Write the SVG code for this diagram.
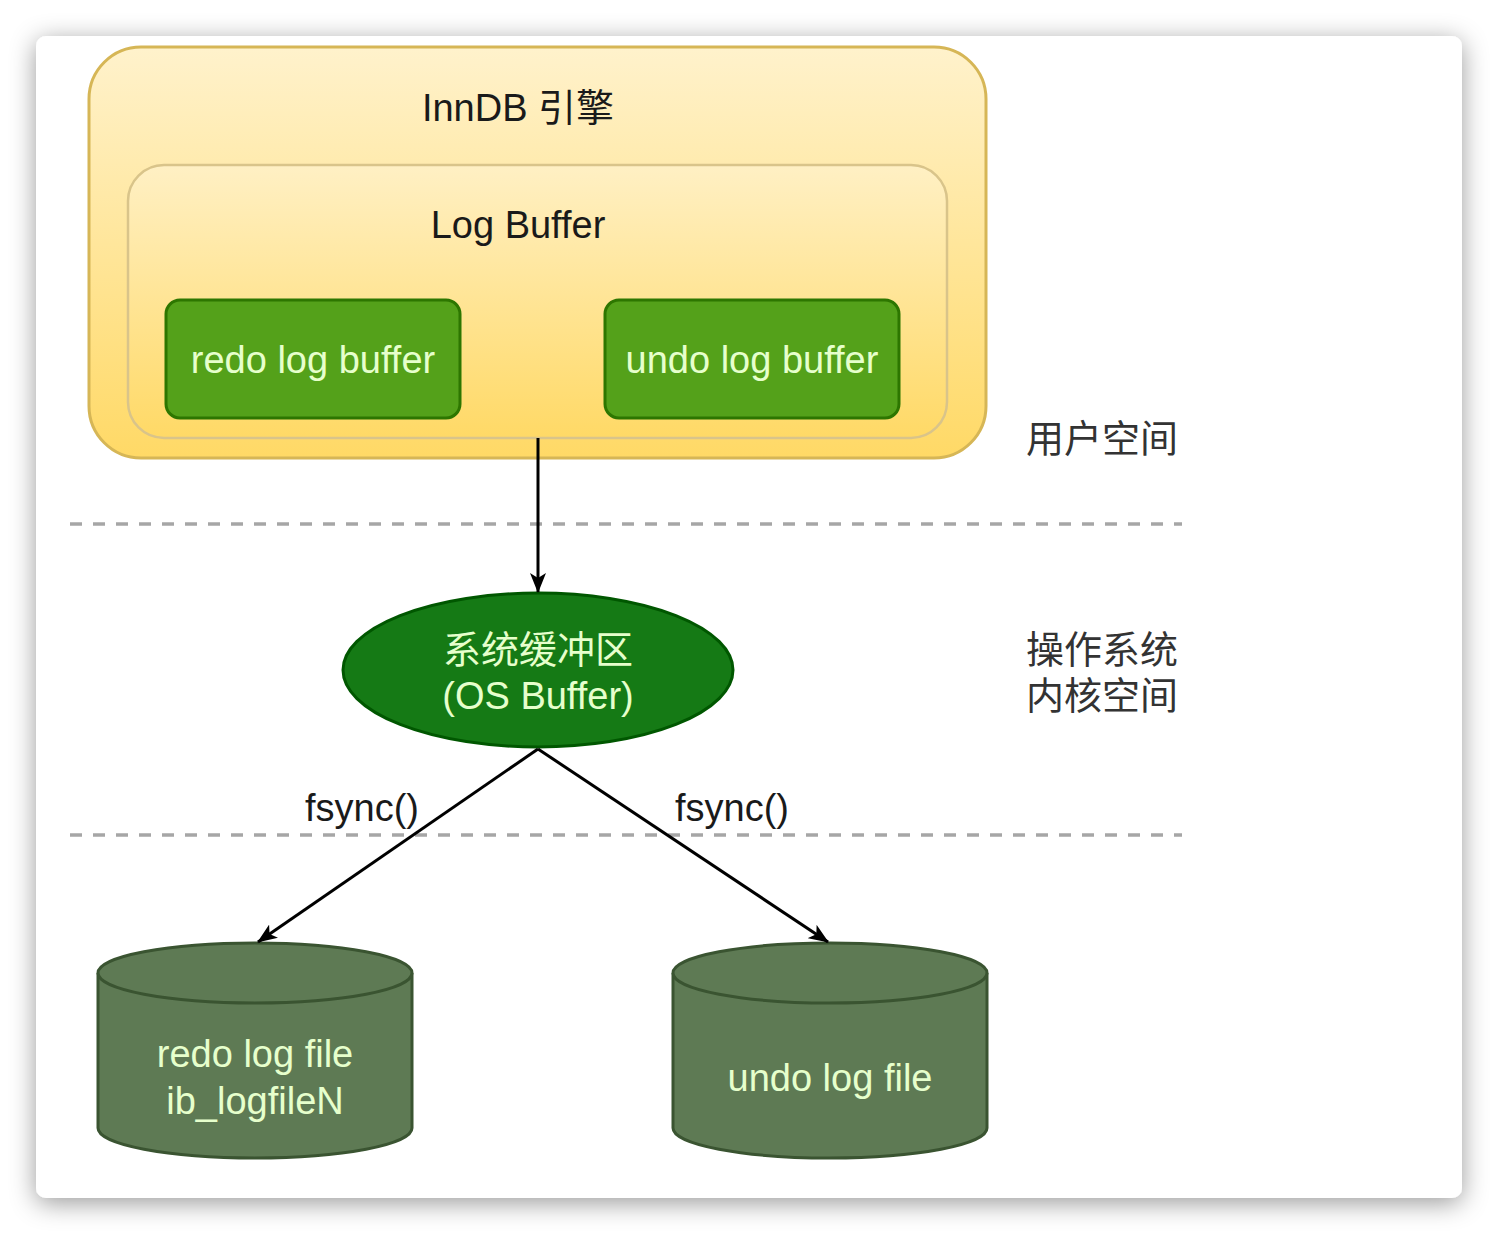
<svg xmlns="http://www.w3.org/2000/svg" width="1498" height="1234" viewBox="0 0 1498 1234">
<defs>
<filter id="shadow" x="-10%" y="-10%" width="120%" height="120%">
<feDropShadow dx="0" dy="5" stdDeviation="13" flood-color="#000" flood-opacity="0.4"/>
</filter>
<linearGradient id="gold" x1="0" y1="0" x2="0" y2="1">
<stop offset="0" stop-color="#fff2cc"/>
<stop offset="1" stop-color="#ffd966"/>
</linearGradient>
<linearGradient id="gold2" x1="0" y1="0" x2="0" y2="1">
<stop offset="0" stop-color="#fff0c4"/>
<stop offset="1" stop-color="#ffd966"/>
</linearGradient>
<marker id="arr" viewBox="0 0 20 16" refX="19" refY="8" markerWidth="20" markerHeight="16" markerUnits="userSpaceOnUse" orient="auto">
<path d="M0,0 L20,8 L0,16 L5,8 Z" fill="#000"/>
</marker>
<style>
text{font-family:"Liberation Sans",Arial,"Noto Sans CJK SC",sans-serif;font-size:38px;text-anchor:middle}
.dark{fill:#1a1a1a}
.lite{fill:#e6ffcc}
.side{fill:#333;font-size:38px}
.gbox{fill:#54a11a;stroke:#2d7600;stroke-width:3}
.cyl{fill:#5e7a54;stroke:#3a5431;stroke-width:3}
.dash{stroke:#a6a6a6;stroke-width:3.5;stroke-dasharray:12 11;fill:none}
.conn{stroke:#000;stroke-width:3;fill:none;marker-end:url(#arr)}
</style>
</defs>
<rect x="0" y="0" width="1498" height="1234" fill="#ffffff"/>
<rect x="36" y="36" width="1426" height="1162" rx="10" fill="#ffffff" filter="url(#shadow)"/>

<g id="innodb">
<rect x="89" y="47" width="897" height="411" rx="52" fill="url(#gold)" stroke="#d6b656" stroke-width="3"/>
<text x="518" y="121" class="dark">InnDB 引擎</text>
</g>
<g id="logbuffer">
<rect x="128" y="165" width="819" height="273" rx="36" fill="url(#gold2)" stroke="#d9c48a" stroke-width="2.5"/>
<text x="518" y="238" class="dark">Log Buffer</text>
</g>
<g id="redo-buffer">
<rect x="166" y="300" width="294" height="118" rx="14" class="gbox"/>
<text x="313" y="373" class="lite">redo log buffer</text>
</g>
<g id="undo-buffer">
<rect x="605" y="300" width="294" height="118" rx="14" class="gbox"/>
<text x="752" y="373" class="lite">undo log buffer</text>
</g>

<g id="separators">
<line x1="70" y1="524" x2="1182" y2="524" class="dash"/>
<line x1="70" y1="835" x2="1182" y2="835" class="dash"/>
</g>

<g id="labels">
<text x="1102" y="452" class="side">用户空间</text>
<text x="1102" y="663" class="side">操作系统</text>
<text x="1102" y="709" class="side">内核空间</text>
</g>

<g id="os-buffer">
<ellipse cx="538" cy="670" rx="195" ry="77" fill="#157a15" stroke="#005700" stroke-width="3"/>
<text x="538" y="663" class="lite">系统缓冲区</text>
<text x="538" y="709" class="lite">(OS Buffer)</text>
</g>

<g id="redo-file">
<path d="M98,973 A157,30 0 0 1 412,973 L412,1128 A157,30 0 0 1 98,1128 Z" class="cyl"/>
<path d="M98,973 A157,30 0 0 0 412,973" class="cyl" fill="none"/>
<text x="255" y="1067" class="lite">redo log file</text>
<text x="255" y="1114" class="lite">ib_logfileN</text>
</g>
<g id="undo-file">
<path d="M673,973 A157,30 0 0 1 987,973 L987,1128 A157,30 0 0 1 673,1128 Z" class="cyl"/>
<path d="M673,973 A157,30 0 0 0 987,973" class="cyl" fill="none"/>
<text x="830" y="1091" class="lite">undo log file</text>
</g>

<g id="connectors">
<line x1="538" y1="438" x2="538" y2="592" class="conn"/>
<line x1="538" y1="749" x2="258" y2="942" class="conn"/>
<line x1="538" y1="749" x2="828" y2="942" class="conn"/>
<text x="362" y="821" class="dark">fsync()</text>
<text x="732" y="821" class="dark">fsync()</text>
</g>
</svg>
